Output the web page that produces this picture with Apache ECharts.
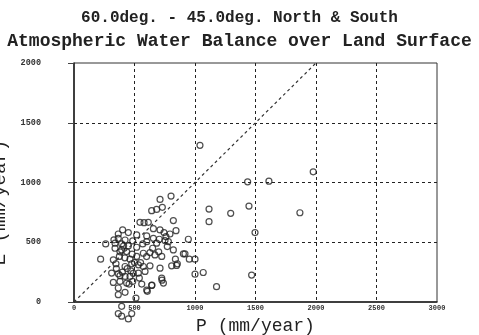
<!DOCTYPE html>
<html>
<head>
<meta charset="utf-8">
<script src="https://cdn.jsdelivr.net/npm/echarts@6/dist/echarts.min.js"></script>
<style>
  html, body { margin: 0; padding: 0; background: #fff; }
  #chart { width: 479px; height: 335px; }
</style>
</head>
<body>
<div id="chart"></div>
<script>
// precipitation P and evaporation E (mm/year), one pair per station
const pValues = [
  1041, 1435, 1611, 1977, 1116, 1295, 1116, 1446, 1867, 1496, 1178, 1468, 1000, 1068,
  711, 802, 642, 683, 730, 821, 545, 579, 614, 402, 449, 366, 518, 601, 656, 711, 744, 793, 843,
  262, 339, 394, 422, 485, 568, 656, 705, 760, 780, 945,
  220, 325, 375, 435, 463, 518, 573, 628, 669, 725, 771, 821, 904, 953, 1000, 838, 854, 807,
  711, 628, 573, 532, 477, 422, 347, 311, 366, 422, 463, 532, 587, 725, 739, 642, 606, 540,
  485, 435, 380, 325, 366, 422, 512, 366, 394, 366, 394, 449, 477,
  339, 394, 449, 518, 366, 601, 683, 752, 917, 601, 644, 727, 848,
  400, 440, 470, 380, 420, 350, 480, 500, 455, 380, 410, 550, 600, 650, 700, 560, 330, 490
];
const eValues = [
  1311, 1006, 1011, 1089, 778, 742, 672, 803, 747, 581, 128, 225, 233, 247,
  858, 886, 764, 775, 792, 681, 667, 664, 667, 603, 581, 569, 561, 553, 614, 603, 581, 569, 597,
  486, 492, 486, 519, 511, 486, 533, 525, 547, 505, 525,
  358, 353, 381, 422, 358, 381, 408, 414, 394, 381, 464, 436, 403, 358, 358, 358, 320, 303,
  283, 303, 297, 311, 320, 297, 320, 242, 236, 214, 214, 242, 256, 200, 158, 139, 89, 200,
  172, 158, 172, 164, 117, 81, 33, 61, -36, -97, -119, -142, -97,
  450, 436, 469, 458, 533, 505, 492, 514, 403, 100, 142, 183, 306,
  250, 280, 260, 420, 370, 280, 400, 330, 150, 220, 470, 330, 380, 450, 420, 150, 520, 240
];
// 1:1 reference line
const lineP = [0, 2000];
const lineE = [0, 2000];

const titleText = '60.0deg. - 45.0deg. North & South';
const subText = 'Atmospheric Water Balance over Land Surface';

const chart = echarts.init(document.getElementById('chart'));
const mono = 'Liberation Mono';
const gridLine = { show: true, showMinLine: false, showMaxLine: false, lineStyle: { color: '#222', type: [3, 3], width: 1 } };
const plain = v => String(v);

chart.setOption({
  animation: false,
  backgroundColor: '#fff',
  title: {
    left: 'center',
    top: 5,
    text: titleText,
    subtext: subText,
    itemGap: 6,
    textStyle: { fontFamily: mono, fontSize: 16, fontWeight: 'bold', color: '#222' },
    subtextStyle: { fontFamily: mono, fontSize: 18, fontWeight: 'bold', color: '#222' }
  },
  grid: {
    left: 74, right: 42, top: 63, bottom: 33,
    containLabel: false, outerBoundsMode: 'none',
    show: true, borderColor: '#333', borderWidth: 1
  },
  xAxis: {
    type: 'value', min: 0, max: 3000, interval: 500,
    name: 'P (mm/year)', nameLocation: 'middle', nameGap: 15,
    nameTextStyle: { fontFamily: mono, fontSize: 18, color: '#222' },
    axisLine: { show: true, lineStyle: { color: '#222', width: 1.5 } },
    axisTick: { show: false },
    axisLabel: { margin: 3, formatter: plain, fontFamily: mono, fontSize: 7, fontWeight: 'bold', color: '#333' },
    splitLine: gridLine
  },
  yAxis: {
    type: 'value', min: 0, max: 2000, interval: 500,
    name: 'E (mm/year)', nameLocation: 'middle', nameGap: 58, nameRotate: 90,
    nameTextStyle: { fontFamily: mono, fontSize: 19, color: '#222', padding: [0, 40, 0, 0] },
    axisLine: { show: true, lineStyle: { color: '#222', width: 1.5 } },
    axisTick: { show: true, length: 6, lineStyle: { color: '#444' } },
    axisLabel: { margin: 33, formatter: plain, fontFamily: mono, fontSize: 8.5, fontWeight: 'bold', color: '#333' },
    splitLine: gridLine
  },
  series: [
    {
      type: 'line',
      data: lineP.map((p, i) => [p, lineE[i]]),
      symbol: 'none',
      silent: true,
      lineStyle: { color: '#333', width: 1.2, type: [3, 3] }
    },
    {
      type: 'scatter',
      clip: false,
      data: pValues.map((p, i) => [p, eValues[i]]),
      symbol: 'circle',
      symbolSize: 6,
      itemStyle: { color: 'rgba(255,255,255,0)', borderColor: '#222', borderWidth: 1.2 }
    }
  ]
});
</script>
</body>
</html>
